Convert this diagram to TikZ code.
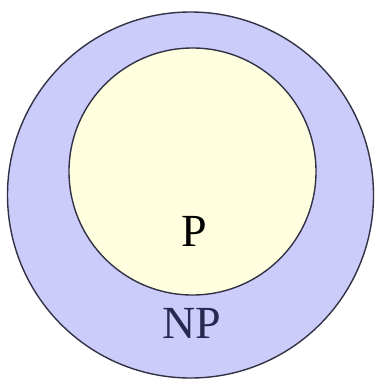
\documentclass[tikz,border=0pt]{standalone}
\usepackage{fontspec}
\setmainfont{Liberation Serif}
\definecolor{npfill}{RGB}{204,204,250}
\definecolor{pfill}{RGB}{255,255,224}
\definecolor{rimcol}{RGB}{50,50,70}
\definecolor{npcol}{RGB}{40,40,80}
\tikzset{
  classset/.style={circle,draw=rimcol,line width=1.4pt,inner sep=0pt},
  classname/.style={anchor=base,inner sep=0pt,font=\fontsize{46}{46}\selectfont}
}
\begin{document}
\begin{tikzpicture}[x=1pt,y=-1pt]
  \useasboundingbox (0,0) rectangle (376,383);
  \node[classset,fill=npfill,minimum size=366pt] (np) at (190.5,195) {};
  \node[classset,fill=pfill,minimum size=247pt] (p) at (192.5,171.5) {};
  \node[classname] (plabel) at (194,246) {P};
  \node[classname,text=npcol] (nplabel) at (192,338) {NP};
\end{tikzpicture}
\end{document}
